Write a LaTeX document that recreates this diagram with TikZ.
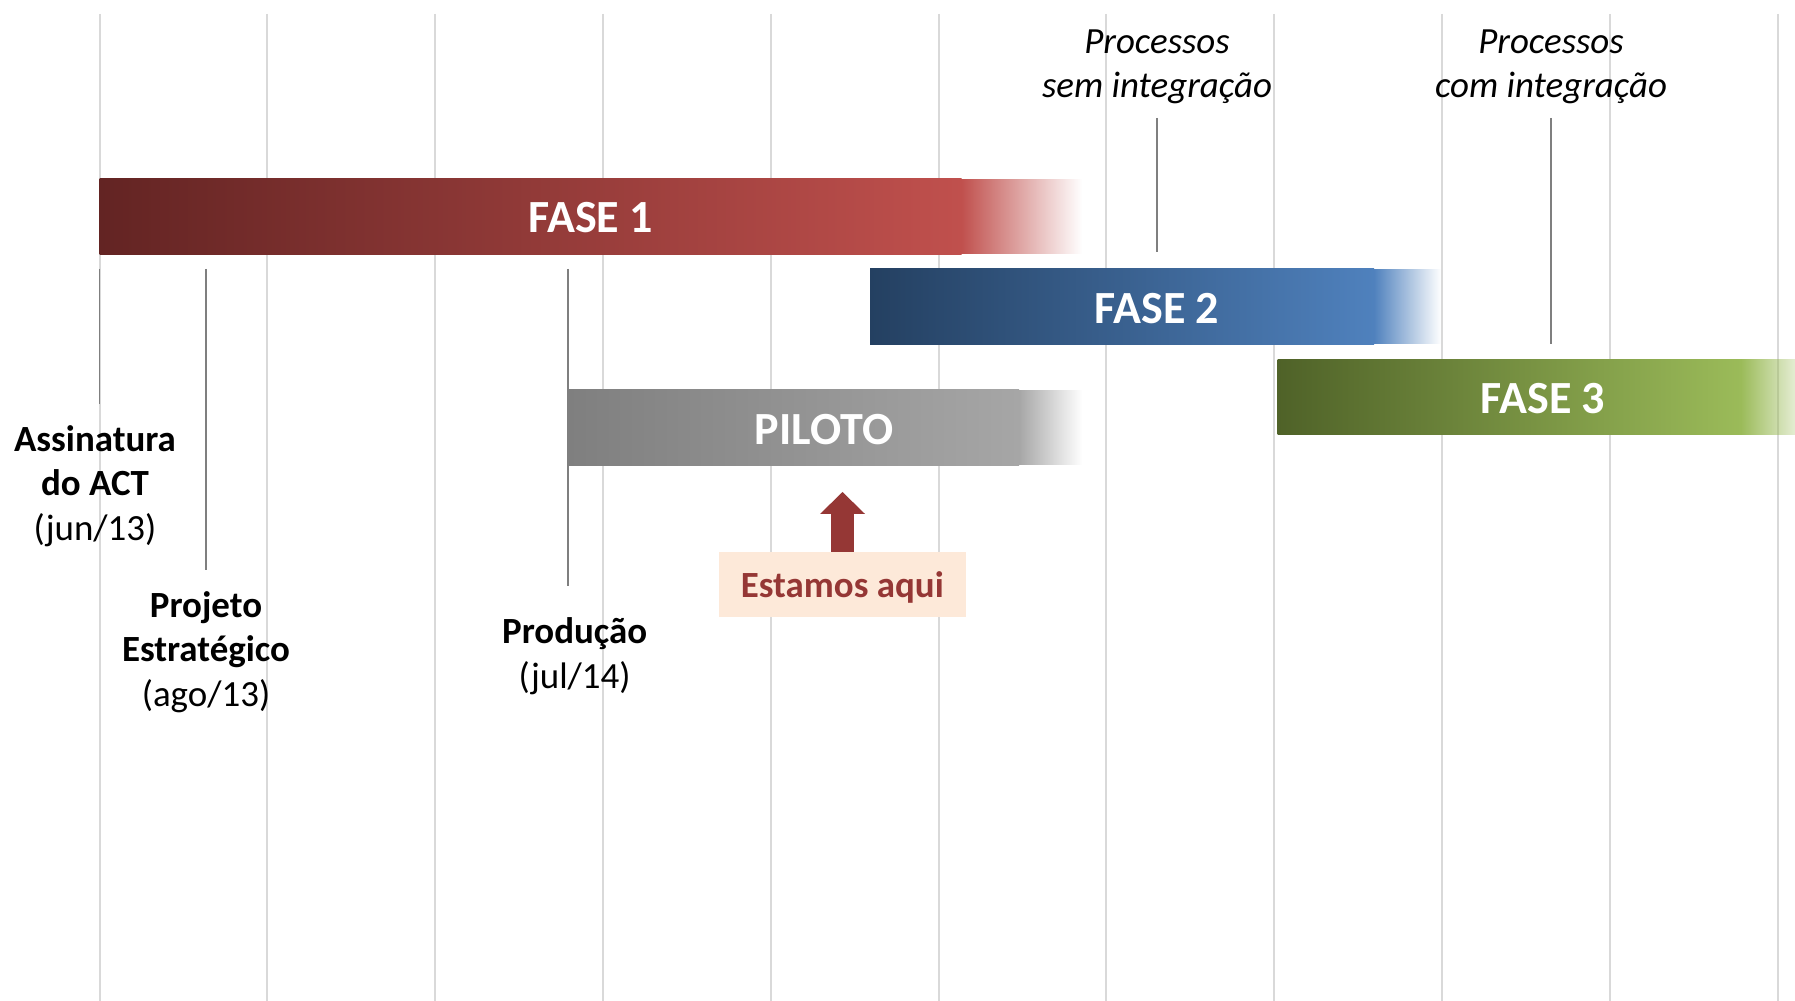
\documentclass[tikz,border=0pt]{standalone}
\usepackage{fontspec}
\setmainfont{Carlito}
\usetikzlibrary{fadings}
\definecolor{grade}{HTML}{D9D9D9}
\definecolor{marco}{HTML}{7F7F7F}
\definecolor{vermA}{HTML}{632423}
\definecolor{vermB}{HTML}{C0504D}
\definecolor{azulA}{HTML}{244061}
\definecolor{azulB}{HTML}{4F81BD}
\definecolor{verdeA}{HTML}{4F6228}
\definecolor{verdeB}{HTML}{9BBB59}
\definecolor{cinzaA}{HTML}{7F7F7F}
\definecolor{cinzaB}{HTML}{A6A6A6}
\definecolor{aquiTxt}{HTML}{953735}
\definecolor{aquiBg}{HTML}{FDE9D9}
\begin{document}
\begin{tikzpicture}[x=0.01cm,y=-0.01cm,
        rot/.style={align=center,inner sep=0pt,font=\fontsize{10.5}{12.7}\selectfont},
        fase/.style={text=white,inner sep=0pt,font=\fontsize{13.1}{15}\selectfont\bfseries},
        aqui/.style={fill=aquiBg,text=aquiTxt,minimum width=2.467cm,minimum height=0.647cm,
            inner sep=0pt,text depth=0pt,font=\fontsize{10.5}{12.7}\selectfont\bfseries},
        tick/.style={draw=marco,line width=0.5pt}]
                \useasboundingbox (0,0) rectangle (1795,1001);
                \def\gx{99.6} \def\gd{167.8}
                \def\h{75.5}
                % grade de fundo
                \foreach \k in {0,...,10}
                    \draw[grade,line width=0.6pt] (\gx+\gd*\k,14) -- (\gx+\gd*\k,1001);
                %===========================================
                \foreach \xa/\xb/\xc/\ya/\ca/\cb/\txt/\nm/\xt in
                    {99.6/961.6/1082/178.6/vermA/vermB/FASE 1/f1/590.8,
                     870/1374/1441/269/azulA/azulB/FASE 2/f2/1157,
                     1277.6/1741/1815/359.5/verdeA/verdeB/FASE 3/f3/1543,
                     567.8/1019/1082/390/cinzaA/cinzaB/PILOTO/pl/824}{
                    \shade[left color=\ca,right color=\cb] (\xa,\ya) rectangle (\xb,\ya+\h);
                    \fill[\cb,path fading=east] (\xb,\ya) rectangle (\xc,\ya+\h);
                    \node[fase] (\nm) at (\xt,\ya+\h/2+1.5) {\txt};}
                %===========================================
                \foreach \x/\ya/\yb [count=\i] in
                    {99.6/269/404,206/269/570,567.8/269/586,1157/118/252,1551/118/344}{
                    \coordinate (m\i a) at (\x,\ya);
                    \coordinate (m\i b) at (\x,\yb);
                    \draw[tick] (m\i a) -- (m\i b);}
                \node[rot] (ass) at (95,486) {\textbf{Assinatura}\\\textbf{do ACT}\\(jun/13)};
                \node[rot] (proj) at (206,652) {\textbf{Projeto}\\\textbf{Estratégico}\\(ago/13)};
                \node[rot] (prod) at (574.7,656) {\textbf{Produção}\\(jul/14)};
                \node[rot,font=\fontsize{10.5}{12.7}\selectfont\itshape] (psem) at (1157,67) {Processos\\sem integração};
                \node[rot,font=\fontsize{10.5}{12.7}\selectfont\itshape] (pcom) at (1551,67) {Processos\\com integração};
                %===========================================
                \node[aqui] (aq) at (842.3,584.3) {Estamos aqui};
                \fill[aquiTxt] (842.5,492) -- (865,514) -- (853.8,514) -- (853.8,552)
                    -- (831.2,552) -- (831.2,514) -- (820,514) -- cycle;
            \end{tikzpicture}
\end{document}
